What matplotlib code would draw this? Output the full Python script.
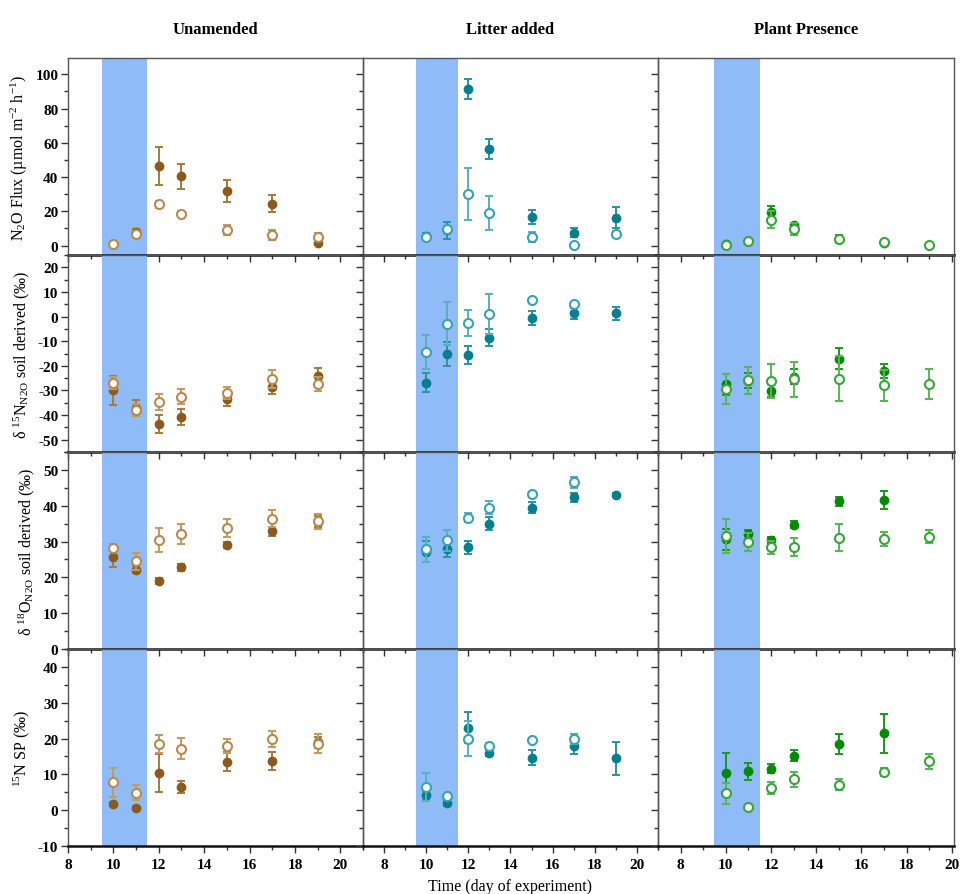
import numpy as np
import matplotlib
matplotlib.use("Agg")
import matplotlib.pyplot as plt
from matplotlib.ticker import MultipleLocator

plt.rcParams['font.family'] = ['Liberation Serif', 'DejaVu Serif']
plt.rcParams['mathtext.fontset'] = 'custom'
plt.rcParams['mathtext.rm'] = 'Liberation Serif'
plt.rcParams['mathtext.it'] = 'Liberation Serif:italic'
plt.rcParams['mathtext.bf'] = 'Liberation Serif:bold'
plt.rcParams['axes.unicode_minus'] = False

nan = np.nan
days = [10, 11, 12, 13, 15, 17, 19]
treatments = ["Unamended", "Litter added", "Plant Presence"]

# ---- Unamended ----
un_flux_f = [1, 8, 46.5, 40.5, 32, 24.5, 1.5]
un_flux_f_err = [0.5, 1.5, 11.3, 7.3, 6.3, 5, 0.8]
un_flux_o = [1, 7, 24, 18.7, 9, 6, 5]
un_flux_o_err = [1, 1.5, 2, 1.5, 3, 3, 2.2]
un_d15_f = [-30, -37, -43.6, -40.9, -33.3, -28.5, -24]
un_d15_f_err = [5.8, 3, 3.6, 3.2, 3, 3, 3]
un_d15_o = [-27, -38, -34.8, -32.5, -31, -25.5, -27.4]
un_d15_o_err = [2.6, 2.3, 3.2, 2.9, 2.5, 3.6, 3]
un_d18_f = [25.7, 22.1, 18.9, 22.8, 29.0, 32.9, 35.5]
un_d18_f_err = [2.8, 1, 0.8, 0.9, 0.8, 1.3, 1.5]
un_d18_o = [28.3, 24.5, 30.4, 32.2, 33.8, 36.4, 35.6]
un_d18_o_err = [1, 2.4, 3.4, 2.8, 2.5, 2.3, 2.2]
un_sp_f = [1.8, 0.6, 10.4, 6.5, 13.5, 13.7, 19]
un_sp_f_err = [0.5, 0.5, 5.4, 1.7, 2.7, 2.5, 1.5]
un_sp_o = [7.8, 4.9, 18.4, 17.2, 18.0, 19.8, 18.6]
un_sp_o_err = [4, 2, 2.5, 3, 2, 2.2, 2.7]

# ---- Litter added ----
li_flux_f = [5.5, 9, 91.6, 56.4, 16.6, 7.6, 16.2]
li_flux_f_err = [2, 5, 5.8, 5.6, 4.1, 2.5, 6.2]
li_flux_o = [5, 9.5, 30.2, 19, 4.9, 0.6, 6.8]
li_flux_o_err = [1.5, 2, 15, 9.7, 3.1, 0.5, 2]
li_d15_f = [-26.8, -15.3, -15.7, -8.6, -0.6, 1.3, 1.3]
li_d15_f_err = [3.7, 4.9, 3.6, 3.4, 3, 2.2, 2.5]
li_d15_o = [-14.4, -2.9, -2.6, 1.0, 6.9, 5.0, nan]
li_d15_o_err = [6.9, 8.8, 5.1, 8, 0.5, 0.5, nan]
li_d18_f = [27.2, 27.8, 28.4, 35.0, 39.5, 42.3, 43.0]
li_d18_f_err = [3, 2, 1.8, 1.8, 1.5, 1.2, 0.5]
li_d18_o = [27.9, 30.3, 36.7, 39.4, 43.2, 46.5, nan]
li_d18_o_err = [3.5, 2.8, 1.3, 1.8, 0.5, 1.6, nan]
li_sp_f = [4.1, 1.9, 23.0, 16.0, 14.6, 18.0, 14.5]
li_sp_f_err = [1.3, 0.8, 4.3, 1, 2.1, 2.3, 4.6]
li_sp_o = [6.4, 4.0, 20.0, 17.9, 19.5, 19.8, nan]
li_sp_o_err = [3.9, 0.5, 4.8, 0.8, 0.5, 1.4, nan]

# ---- Plant presence ----
pl_flux_f = [0.8, 2.5, 19.7, 11.9, 3.9, 1.6, nan]
pl_flux_f_err = [0.5, 0.8, 3.5, 1.5, 2, 0.8, nan]
pl_flux_o = [0.6, 2.7, 15.2, 9.4, 3.7, 2.0, 0.2]
pl_flux_o_err = [0.5, 0.8, 5, 3.5, 2, 1, 0.4]
pl_d15_f = [-27.5, -26, -30.1, -24.4, -17.1, -22.1, nan]
pl_d15_f_err = [4.2, 3, 2.7, 3, 4.2, 2.8, nan]
pl_d15_o = [-29.5, -25.8, -26.2, -25.5, -25.2, -27.9, -27.3]
pl_d15_o_err = [6, 5.5, 7, 7, 9, 6.3, 6]
pl_d18_f = [30.6, 32.0, 30.3, 34.7, 41.2, 41.5, nan]
pl_d18_f_err = [3, 1.2, 1, 1, 1.3, 2.5, nan]
pl_d18_o = [31.5, 29.9, 28.4, 28.4, 31.1, 30.8, 31.3]
pl_d18_o_err = [4.8, 2.6, 1.8, 2.5, 3.7, 2, 1.8]
pl_sp_f = [10.5, 10.8, 11.6, 15.2, 18.4, 21.5, nan]
pl_sp_f_err = [5.4, 2.5, 1.3, 1.5, 2.8, 5.4, nan]
pl_sp_o = [4.7, 0.8, 6.3, 8.6, 7.1, 10.7, 13.6]
pl_sp_o_err = [3, 0.4, 1.7, 2, 1.5, 1.2, 2]

series = [
    [(un_flux_f, un_flux_f_err, un_flux_o, un_flux_o_err),
     (li_flux_f, li_flux_f_err, li_flux_o, li_flux_o_err),
     (pl_flux_f, pl_flux_f_err, pl_flux_o, pl_flux_o_err)],
    [(un_d15_f, un_d15_f_err, un_d15_o, un_d15_o_err),
     (li_d15_f, li_d15_f_err, li_d15_o, li_d15_o_err),
     (pl_d15_f, pl_d15_f_err, pl_d15_o, pl_d15_o_err)],
    [(un_d18_f, un_d18_f_err, un_d18_o, un_d18_o_err),
     (li_d18_f, li_d18_f_err, li_d18_o, li_d18_o_err),
     (pl_d18_f, pl_d18_f_err, pl_d18_o, pl_d18_o_err)],
    [(un_sp_f, un_sp_f_err, un_sp_o, un_sp_o_err),
     (li_sp_f, li_sp_f_err, li_sp_o, li_sp_o_err),
     (pl_sp_f, pl_sp_f_err, pl_sp_o, pl_sp_o_err)],
]

ylabels = ["N$_2$O Flux (µmol m$^{-2}$ h$^{-1}$)",
           "δ $^{15}$N$_{\\rm N2O}$ soil derived (‰)",
           "δ $^{18}$O$_{\\rm N2O}$ soil derived (‰)",
           "$^{15}$N SP (‰)"]
ylims = [(-5.5, 109.5), (-55, 25), (0, 55), (-10, 45)]
ymajor = [20, 10, 10, 10]
yminor = [10, 5, 5, 5]

# colours: (filled marker, filled error bar, open edge, open error bar)
colors = [("#8B5A1E", "#A67A3E", "#B88A4E", "#C29A62"),
          ("#00808E", "#2A93A2", "#3AA3B3", "#5AB0BE"),
          ("#008A00", "#1F961F", "#3AA53A", "#5AB45A")]
band_color = "#8FBCF7"

W, H = 962, 895
fig = plt.figure(figsize=(W / 100, H / 100), dpi=100)

col_px = [(68, 363), (363, 658), (658, 954)]
col_xlim = [(8, 21), (7, 21), (7, 20.1)]
row_px = [(59, 256), (256, 453), (453, 650), (650, 847)]

for r in range(4):
    for c in range(3):
        x0, x1 = col_px[c]
        y0, y1 = row_px[r]
        ax = fig.add_axes([x0 / W, 1 - y1 / H, (x1 - x0) / W, (y1 - y0) / H])
        ax.axvspan(9.5, 11.5, color=band_color, lw=0, zorder=0)
        f, fe, o, oe = series[r][c]
        cf, cfe, co, coe = colors[c]
        ax.errorbar(days, f, yerr=fe, fmt='o', color=cf, ecolor=cfe,
                    ms=6, elinewidth=1.4, capsize=3, capthick=1.4, zorder=3)
        ax.errorbar(days, o, yerr=oe, fmt='o', mfc='white', mec=co, mew=1.5,
                    ecolor=coe, ms=6.5, elinewidth=1.4, capsize=3,
                    capthick=1.4, zorder=4)
        ax.set_xlim(*col_xlim[c])
        ax.set_ylim(*ylims[r])
        ax.xaxis.set_major_locator(MultipleLocator(2))
        ax.xaxis.set_minor_locator(MultipleLocator(1))
        ax.yaxis.set_major_locator(MultipleLocator(ymajor[r]))
        ax.yaxis.set_minor_locator(MultipleLocator(yminor[r]))
        ax.tick_params(axis='both', which='major', direction='out',
                       length=5, width=1, color='#333333')
        ax.tick_params(axis='both', which='minor', direction='out',
                       length=3, width=1, color='#333333')
        for side in ['left', 'right', 'top']:
            ax.spines[side].set_color('#555555')
            ax.spines[side].set_linewidth(1.0)
        ax.spines['bottom'].set_color('#111111')
        ax.spines['bottom'].set_linewidth(1.8)
        ax.patch.set_alpha(0)
        if r < 3:
            ax.tick_params(axis='x', labelbottom=False)
        else:
            for lab in ax.get_xticklabels():
                lab.set_fontweight('bold')
            ax.tick_params(axis='x', labelsize=11, pad=4)
        if c > 0:
            ax.tick_params(axis='y', labelleft=False)
        else:
            ax.tick_params(axis='y', labelsize=11, pad=2)
            for lab in ax.get_yticklabels():
                lab.set_fontweight('bold')
            ax.set_ylabel(ylabels[r], fontsize=11.5, labelpad=4)
        if r == 0:
            ax.set_title(treatments[c], fontsize=12, fontweight='bold',
                         pad=18)
        if r == 3 and c == 1:
            ax.set_xlabel("Time (day of experiment)", fontsize=11.5,
                          labelpad=5)

fig.savefig("out.png", dpi=100)
